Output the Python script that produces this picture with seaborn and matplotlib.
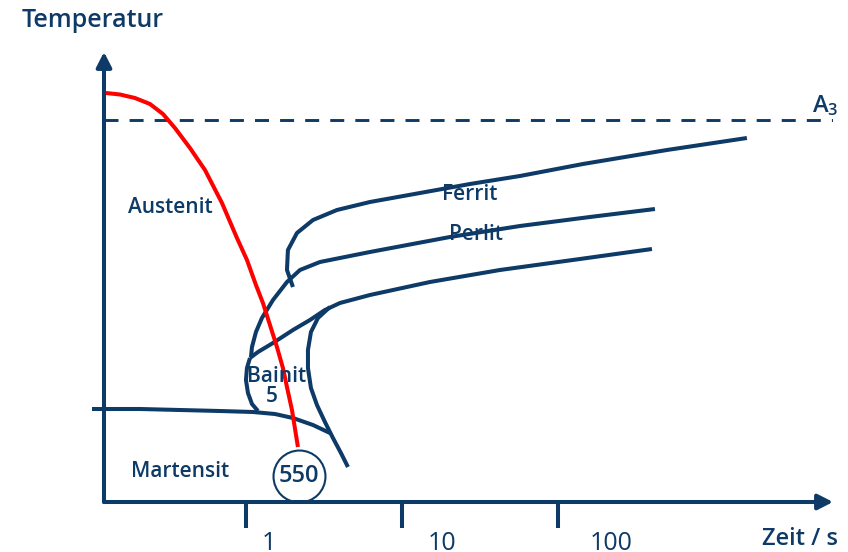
import matplotlib
matplotlib.use("Agg")
import numpy as np
import pandas as pd
import seaborn as sns
import matplotlib.pyplot as plt
from matplotlib.ticker import NullLocator

# ---- curve data: time in s (log axis), temperature in arbitrary units ----
abkuehl_zeit = [0.1266, 0.1557, 0.1943, 0.2424, 0.2937, 0.3506, 0.4375, 0.5461,
                0.7018, 0.8755, 1.015, 1.159, 1.285, 1.425, 1.580, 1.726, 1.832,
                1.972, 2.154]
abkuehl_temp = [818, 815, 808, 796, 776, 748, 708, 664,
                598, 528, 484, 434, 398, 354, 310, 268, 230, 184, 110]

ferrit_zeit = [2.001, 1.832, 1.858, 2.123, 2.689, 3.831, 6.235, 13.05,
               27.29, 57.07, 144.7, 499.7, 1627]
ferrit_temp = [430, 464, 504, 538, 564, 584, 600, 618, 636, 652, 676, 704, 728]

perlit_zeit = [418.6, 160.4, 57.07, 20.31, 6.235, 2.981, 2.219, 1.832,
               1.490, 1.266, 1.159, 1.093, 1.077]
perlit_temp = [586, 570, 552, 530, 500, 480, 464, 440, 404, 368, 340, 310, 290]

bainit_oben_zeit = [400.6, 138.4, 42.48, 15.12, 6.235, 4.005, 3.209, 2.572,
                    2.001, 1.490, 1.194, 1.061]
bainit_oben_temp = [506, 486, 464, 440, 414, 398, 384, 364, 344, 318, 300, 288]

bainit_rechts_zeit = [3.455, 2.894, 2.610, 2.497, 2.497, 2.610, 2.852,
                      3.209, 3.612, 4.064, 4.507]
bainit_rechts_temp = [390, 368, 340, 304, 268, 228, 194, 160, 128, 98, 70]

bainit_links_zeit = [1.061, 1.015, 1.000, 1.030, 1.093, 1.194]
bainit_links_temp = [288, 268, 244, 218, 196, 182]

martensit_zeit = [0.1030, 0.2092, 0.3776, 0.6813, 1.109, 1.534, 2.001, 2.689, 3.455]
martensit_temp = [186, 186, 184, 182, 180, 176, 168, 154, 138]

a3_temp = 764

tick_zeit = [1, 10, 100]
tick_text = ["1", "10", "100"]

NAVY = "#0d3a66"
RED = "#ff0000"

sns.set_theme(style="white")
plt.rcParams["font.family"] = ["Open Sans", "DejaVu Sans"]

fig = plt.figure(figsize=(8.48, 5.52), dpi=100)
ax = fig.add_axes([104 / 848, 50 / 552, 729 / 848, 450 / 552])
ax.set_xscale("log")
ax.set_xlim(0.123, 5800)
ax.set_ylim(0, 900)

# transformation curves in one long table
kurven = {
    "ferrit": (ferrit_zeit, ferrit_temp),
    "perlit": (perlit_zeit, perlit_temp),
    "bainit_oben": (bainit_oben_zeit, bainit_oben_temp),
    "bainit_rechts": (bainit_rechts_zeit, bainit_rechts_temp),
    "bainit_links": (bainit_links_zeit, bainit_links_temp),
    "martensit": (martensit_zeit, martensit_temp),
}
df = pd.concat(
    [pd.DataFrame({"zeit": z, "temp": t, "kurve": k}) for k, (z, t) in kurven.items()],
    ignore_index=True,
)
sns.lineplot(data=df, x="zeit", y="temp", units="kurve", estimator=None,
             sort=False, color=NAVY, lw=2.9, ax=ax, clip_on=False,
             solid_capstyle="butt", solid_joinstyle="round")

# cooling curve
sns.lineplot(x=abkuehl_zeit, y=abkuehl_temp, sort=False, estimator=None,
             color=RED, lw=2.9, ax=ax, clip_on=False, solid_capstyle="butt",
             solid_joinstyle="round")

# A3 line
ax.axhline(a3_temp, color=NAVY, lw=2.1, dashes=(4.8, 3.8), zorder=1)

# axes as arrows
for end in [(0, 1), (1, 0)]:
    ax.annotate("", xy=end, xytext=(0, 0), xycoords="axes fraction",
                arrowprops=dict(arrowstyle="-|>,head_length=9,head_width=4.6",
                                mutation_scale=1, lw=2.9, color=NAVY,
                                shrinkA=0, shrinkB=0))
for s in ax.spines.values():
    s.set_visible(False)

ax.set_yticks([])
ax.set_xticks(tick_zeit)
ax.set_xticklabels([])
ax.xaxis.set_minor_locator(NullLocator())
ax.tick_params(axis="x", bottom=True, direction="out", length=18.7, width=2.9,
               color=NAVY, pad=0)
ax.set_xlabel("")
ax.set_ylabel("")

for z, lab, dx in zip(tick_zeit, tick_text, [16.6, 28.8, 38.2]):
    ax.annotate(lab, xy=(z, 0), xycoords=("data", "axes fraction"),
                xytext=(dx, -21.0), textcoords="offset points",
                ha="center", va="top", fontsize=18, color=NAVY,
                fontweight="medium", annotation_clip=False)

# region labels
txt = dict(color=NAVY, fontsize=15, fontweight="semibold", ha="center", va="baseline")
ax.text(0.3258, 578, "Austenit", **txt)
ax.text(27.3, 604, "Ferrit", **txt)
ax.text(29.8, 524, "Perlit", **txt)
ax.text(1.580, 240, "Bainit", **txt)
ax.text(1.468, 200, "5", **txt)
ax.text(0.3776, 50, "Martensit", **txt)
ax.text(2.187, 40, "550", color=NAVY, fontsize=17, fontweight="semibold",
        ha="center", va="baseline")
ax.plot([2.187], [52], marker="o", ms=37.4, mfc="none", mec=NAVY, mew=1.5,
        clip_on=False)
ax.text(4249, 780, r"$\mathregular{A_3}$", color=NAVY, fontsize=17,
        fontweight="semibold", ha="left", va="baseline")

fig.text(22 / 848, 1 - 27 / 552, "Temperatur", color=NAVY, fontsize=18,
         fontweight="semibold", ha="left", va="baseline")
fig.text(762 / 848, 1 - 545 / 552, "Zeit / s", color=NAVY, fontsize=17,
         fontweight="semibold", ha="left", va="baseline")

fig.savefig("out.png", dpi=100)
